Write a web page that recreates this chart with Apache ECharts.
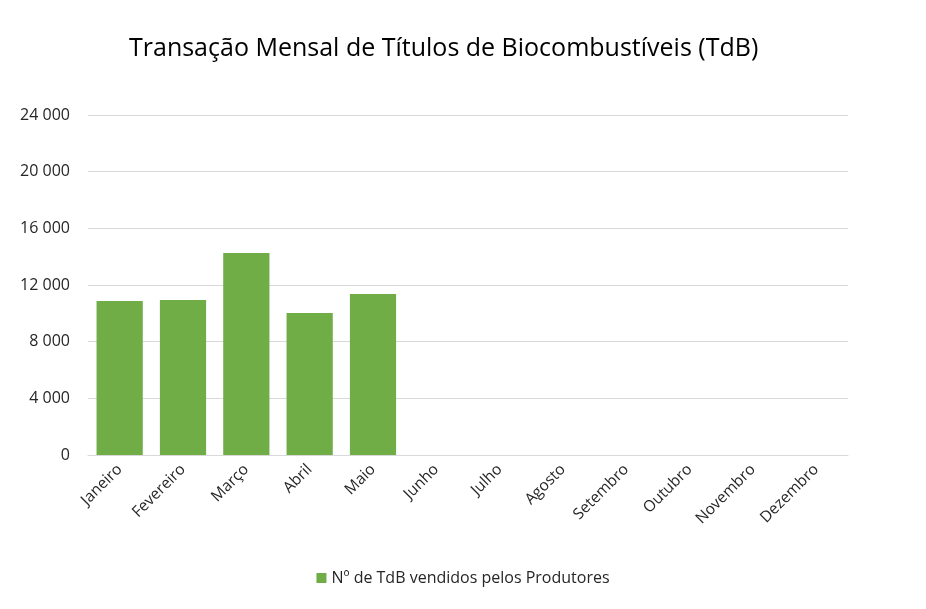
<!DOCTYPE html>
<html>
<head>
<meta charset="utf-8">
<script src="https://cdn.jsdelivr.net/npm/echarts@6/dist/echarts.min.js"></script>
<style>
html,body{margin:0;padding:0;background:#fff;}
#chart{width:926px;height:609px;}
</style>
</head>
<body>
<div id="chart"></div>
<script>
const titleText = 'Transação Mensal de Títulos de Biocombustíveis (TdB)';
const categories = ['Janeiro','Fevereiro','Março','Abril','Maio','Junho','Julho','Agosto','Setembro','Outubro','Novembro','Dezembro'];
const seriesName = 'Nº de TdB vendidos pelos Produtores';
const values = [10870, 10940, 14260, 10020, 11370, null, null, null, null, null, null, null];
const yMin = 0, yMax = 24000, yStep = 4000;

const font = '"Open Sans", "Liberation Sans", sans-serif';
const chart = echarts.init(document.getElementById('chart'));
chart.setOption({
  backgroundColor: '#ffffff',
  animation: false,
  title: {
    text: titleText, left: 124, top: 31,
    textStyle: { fontFamily: font, fontSize: 25, fontWeight: 'normal', color: '#000000' }
  },
  legend: {
    bottom: 18, left: 'center', itemWidth: 10, itemHeight: 10, itemGap: 5,
    icon: 'rect',
    textStyle: { fontFamily: font, fontSize: 16, color: '#262626' },
    data: [seriesName]
  },
  grid: { left: 88, right: 78, top: 115, bottom: 154 },
  xAxis: {
    type: 'category', data: categories,
    axisLine: { lineStyle: { color: '#d9d9d9', width: 1 } },
    axisTick: { show: false },
    axisLabel: { rotate: 45, fontFamily: font, fontSize: 15.5, color: '#262626', margin: 12, interval: 0 }
  },
  yAxis: {
    type: 'value', min: yMin, max: yMax, interval: yStep,
    axisLine: { show: false }, axisTick: { show: false },
    splitLine: { lineStyle: { color: '#d9d9d9', width: 1 } },
    axisLabel: {
      fontFamily: font, fontSize: 16, color: '#262626', margin: 18,
      formatter: v => v >= 1000 ? Math.floor(v/1000) + ' ' + String(v%1000).padStart(3,'0') : String(v)
    }
  },
  series: [{
    name: seriesName, type: 'bar', data: values,
    barCategoryGap: '27%',
    itemStyle: { color: '#70ad47' }
  }]
});
</script>
</body>
</html>
